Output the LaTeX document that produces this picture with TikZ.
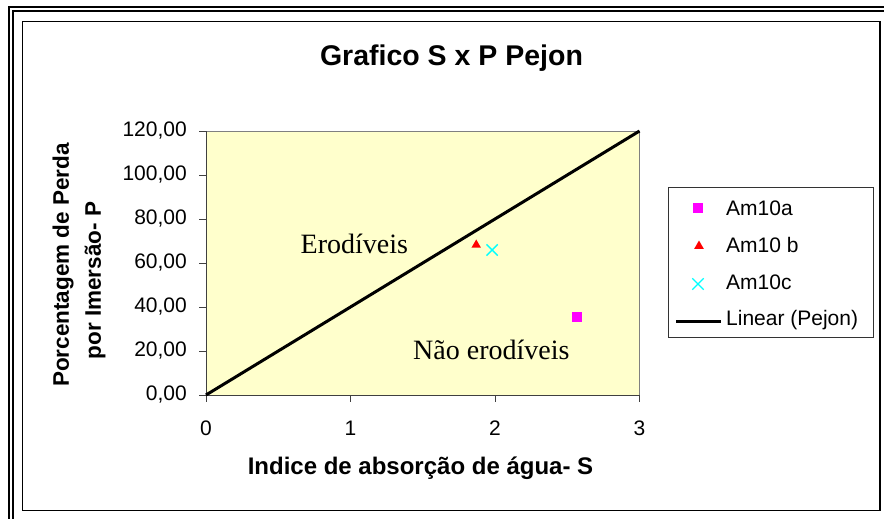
\documentclass[tikz,border=0pt]{standalone}
\usepackage{fontspec}
\setmainfont{Liberation Sans}
\newfontfamily\zonefont{Liberation Serif}
\usepackage{tikz}
\usetikzlibrary{shapes.geometric, shapes.misc}

\definecolor{plotbg}{HTML}{FFFFCC}
\definecolor{amA}{HTML}{FF00FF}
\definecolor{amC}{HTML}{00FFFF}
\definecolor{frameGray}{HTML}{808080}

\tikzset{
    ticklab/.style={font=\fontsize{21}{24}\selectfont, inner sep=0pt},
    ylab/.style={font=\fontsize{22.5}{25}\selectfont\bfseries, inner sep=0pt, rotate=90},
    legtext/.style={font=\fontsize{21}{24}\selectfont, anchor=west, inner sep=0pt},
    zonetext/.style={font=\fontsize{28}{30}\selectfont\zonefont, anchor=base west, inner sep=0pt},
    mksq/.style={rectangle, fill=amA, minimum size=10pt, inner sep=0pt},
    mktri/.style={regular polygon, regular polygon sides=3, fill=red, minimum size=11pt, inner sep=0pt},
    mkx/.style={cross out, draw=amC, line width=1.3pt, minimum size=10pt, inner sep=0pt},
}

\begin{document}
\begin{tikzpicture}[x=1pt, y=-1pt]
    \useasboundingbox (0,0) rectangle (884,519);

    % page frame (double)
    \draw[line width=2pt] (9,519) -- (9,7) -- (884,7);
    \draw[line width=2pt] (13,519) -- (13,11) -- (884,11);

    % chart area
    \draw[line width=1.2pt, fill=white] (22.5,21.5) rectangle (880,510.5);
    \node[font=\fontsize{28.5}{32}\selectfont\bfseries, anchor=base, inner sep=0pt] (title) at (451.5,66) {Grafico S x P Pejon};

    % plot area
    \begin{scope}[shift={(206,395)}, x=144.5pt, y=2.2pt]
        \fill[plotbg] (0,0) rectangle (3,120);
        \draw[frameGray] (0,0) rectangle (3,120);
        \draw[black!75] (0,120) -- (0,0) -- (3,0);

        \foreach \v in {0,20,...,120} {
            \draw[black!75] (0,\v) -- ++(-7pt,0);
            \node[ticklab, anchor=east] (yt\v) at ([xshift=-19pt]0,\v) {\v,00};
        }
        \foreach \s in {0,...,3} {
            \draw[black!75] (\s,0) -- ++(0,-7pt);
            \node[ticklab, anchor=base] (xt\s) at ([yshift=-40pt]\s,0) {\s};
        }

        \coordinate (orig) at (0,0);
        \coordinate (lend) at (3,120);
        \draw[line width=3pt] (orig) -- (lend);

        \node[mksq] (am10a) at (2.57,35.5) {};
        \node[mktri] (am10b) at (1.87,68.2) {};
        \node[mkx] (am10c) at (1.98,65.9) {};
    \end{scope}

    % zone labels (cut at the bottom as in the chart)
    \begin{scope}
        \clip (295,225) rectangle (420,253.5);
        \node[zonetext] (ero) at (300.5,253) {Erodíveis};
    \end{scope}
    \begin{scope}
        \clip (405,330) rectangle (590,359.5);
        \node[zonetext] (naoero) at (413,359) {Não erodíveis};
    \end{scope}

    % axis titles
    \node[ylab] (ylabA) at (63,265) {Porcentagem de Perda};
    \node[ylab] (ylabB) at (95,280.5) {por Imersão- P};
    \node[font=\fontsize{24}{26}\selectfont\bfseries, anchor=base, inner sep=0pt] (xlab) at (420.5,474) {Indice de absorção de água- S};

    % legend
    \draw[black!80, line width=0.9pt] (668,187) rectangle (873,337);
    \node[mksq] (lgA) at (698,208) {};
    \node[legtext] (lgAt) at (726,208) {Am10a};
    \node[mktri] (lgB) at (699,246) {};
    \node[legtext] (lgBt) at (726,245) {Am10 b};
    \node[mkx] (lgC) at (698,284) {};
    \node[legtext] (lgCt) at (726,282) {Am10c};
    \coordinate (lgL1) at (676,321.5);
    \coordinate (lgL2) at (721,321.5);
    \draw[line width=3pt] (lgL1) -- (lgL2);
    \node[legtext] (lgDt) at (726,320) {Linear (Pejon)};
\end{tikzpicture}
\end{document}
